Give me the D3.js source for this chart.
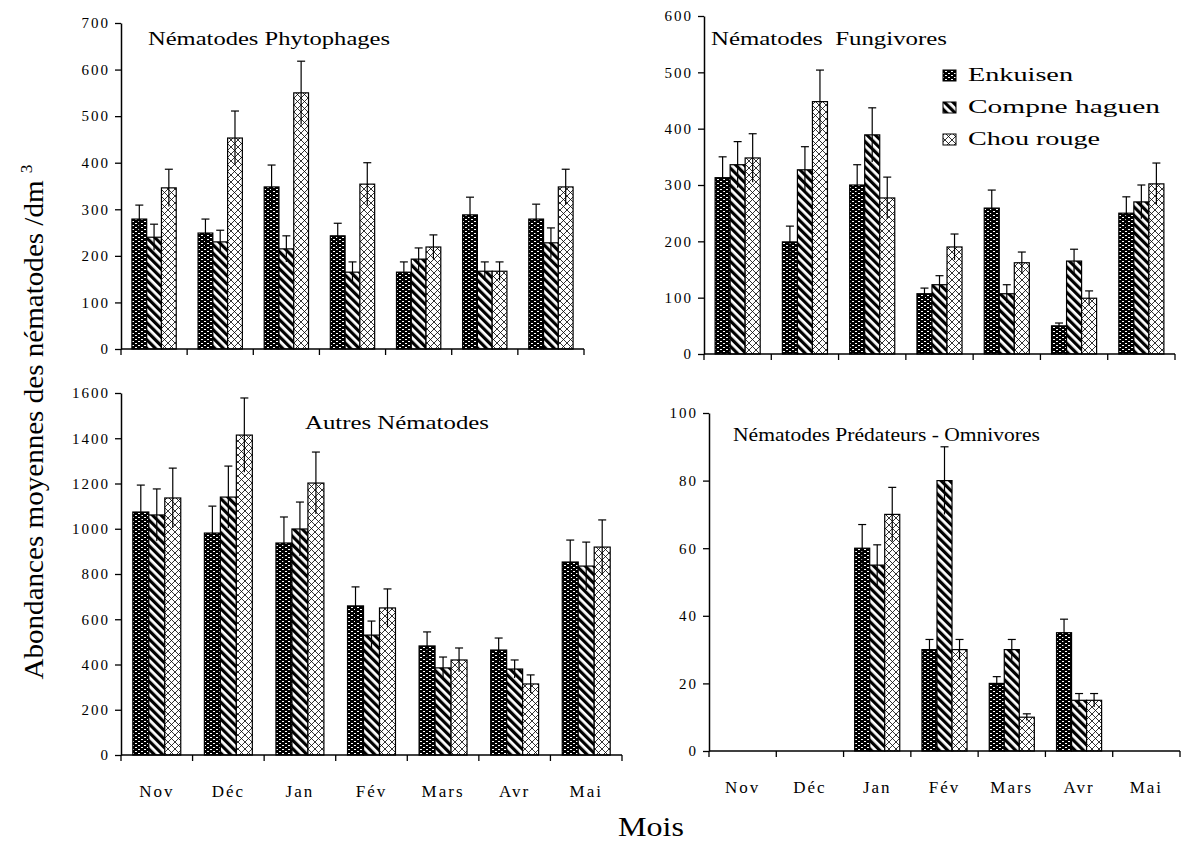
<!DOCTYPE html>
<html lang="fr">
<head>
<meta charset="UTF-8">
<title>Nématodes</title>
<style>
  body { margin: 0; background: #fff; }
  svg { display: block; font-family: "Liberation Serif", "DejaVu Serif", serif; }
  svg text { font-family: "Liberation Serif", "DejaVu Serif", serif; }
</style>
</head>
<body>
<div id="chart"></div>
<script src="https://cdn.jsdelivr.net/npm/d3@7"></script>
<script>
// mois et séries
const months = ["Nov", "Déc", "Jan", "Fév", "Mars", "Avr", "Mai"]
const series = ["Enkuisen", "Compne haguen", "Chou rouge"]

// Nématodes Phytophages : moyennes [Enkuisen, Compne, Chou] par mois + erreurs
const phytoMeans = [
  [279, 249, 348, 243, 165, 288, 279],
  [240, 230, 215, 165, 193, 167, 228],
  [346, 453, 550, 354, 219, 167, 348]
]
const phytoErrs = [
  [30, 30, 47, 27, 22, 38, 32],
  [28, 25, 28, 22, 24, 20, 32],
  [40, 58, 68, 46, 26, 20, 38]
]
const phytoTicks = [0, 100, 200, 300, 400, 500, 600, 700]

// Nématodes Fungivores
const fungiMeans = [
  [313, 199, 300, 107, 259, 50, 250],
  [336, 327, 389, 123, 107, 165, 270],
  [348, 448, 277, 190, 162, 99, 302]
]
const fungiErrs = [
  [37, 28, 36, 10, 32, 5, 29],
  [41, 41, 48, 16, 16, 21, 30],
  [43, 56, 37, 23, 19, 13, 37]
]
const fungiTicks = [0, 100, 200, 300, 400, 500, 600]

// Autres Nématodes
const autresMeans = [
  [1074, 981, 937, 659, 482, 464, 853],
  [1061, 1140, 999, 530, 385, 380, 835],
  [1136, 1414, 1202, 650, 420, 314, 919]
]
const autresErrs = [
  [119, 119, 115, 84, 62, 53, 97],
  [115, 137, 119, 62, 48, 40, 106],
  [132, 164, 137, 84, 53, 40, 120]
]
const autresTicks = [0, 200, 400, 600, 800, 1000, 1200, 1400, 1600]

// Nématodes Prédateurs - Omnivores
const predMeans = [
  [0, 0, 60, 30, 20, 35, 0],
  [0, 0, 55, 80, 30, 15, 0],
  [0, 0, 70, 30, 10, 15, 0]
]
const predErrs = [
  [0, 0, 7, 3, 2, 4, 0],
  [0, 0, 6, 10, 3, 2, 0],
  [0, 0, 8, 3, 1, 2, 0]
]
const predTicks = [0, 20, 40, 60, 80, 100]

const width = 1181
const height = 842
const serif = '"Liberation Serif", "DejaVu Serif", serif'
const svg = d3.select('#chart').append('svg')
  .attr('width', width)
  .attr('height', height)

// motifs de remplissage
const defs = svg.append('defs')
const p1 = defs.append('pattern').attr('id', 'pat0')
  .attr('patternUnits', 'userSpaceOnUse').attr('width', 6).attr('height', 4)
p1.append('rect').attr('width', 6).attr('height', 4).attr('fill', '#000')
p1.append('rect').attr('x', 0).attr('y', 1).attr('width', 2).attr('height', 1).attr('fill', '#fff')
p1.append('rect').attr('x', 3).attr('y', 3).attr('width', 2).attr('height', 1).attr('fill', '#fff')

const p2 = defs.append('pattern').attr('id', 'pat1')
  .attr('patternUnits', 'userSpaceOnUse').attr('width', 6).attr('height', 6)
  .attr('patternTransform', 'rotate(-45)')
p2.append('rect').attr('width', 6).attr('height', 6).attr('fill', '#fff')
p2.append('rect').attr('width', 3.2).attr('height', 6).attr('fill', '#000')

const p3 = defs.append('pattern').attr('id', 'pat2')
  .attr('patternUnits', 'userSpaceOnUse').attr('width', 7).attr('height', 7)
p3.append('rect').attr('width', 7).attr('height', 7).attr('fill', '#fff')
p3.append('path').attr('d', 'M0,0L7,7M7,0L0,7')
  .attr('stroke', '#000').attr('stroke-width', 0.8)

const panels = [
  { title: 'Nématodes Phytophages', means: phytoMeans, errs: phytoErrs, ticks: phytoTicks,
    x0: 121, x1: 584, y0: 349, y1: 23, labels: false,
    tx: 148, ty: 45, tw: 242 },
  { title: 'Nématodes  Fungivores', means: fungiMeans, errs: fungiErrs, ticks: fungiTicks,
    x0: 704, x1: 1175, y0: 354, y1: 16, labels: false,
    tx: 711, ty: 45, tw: 236 },
  { title: 'Autres Nématodes', means: autresMeans, errs: autresErrs, ticks: autresTicks,
    x0: 121, x1: 622, y0: 755, y1: 393, labels: true,
    tx: 305, ty: 429, tw: 184 },
  { title: 'Nématodes Prédateurs - Omnivores', means: predMeans, errs: predErrs, ticks: predTicks,
    x0: 709, x1: 1180, y0: 751, y1: 413, labels: true,
    tx: 733, ty: 441, tw: 307 }
]

panels.forEach(p => drawPanel(p))

function drawPanel(p) {
  const g = svg.append('g')
  const x = d3.scaleBand().domain(months).range([p.x0, p.x1]).padding(0)
  const xs = d3.scaleBand().domain(d3.range(series.length))
    .range([x.step() * 0.165, x.step() * 0.835]).padding(0)
  const y = d3.scaleLinear()
    .domain([0, p.ticks[p.ticks.length - 1]])
    .range([p.y0, p.y1])

  // barres
  series.forEach((s, si) => {
    const bars = g.append('g')
    months.forEach((m, mi) => {
      const v = p.means[si][mi]
      if (v <= 0) return
      bars.append('rect')
        .attr('x', x(m) + xs(si))
        .attr('y', y(v))
        .attr('width', xs.bandwidth())
        .attr('height', y(0) - y(v))
        .attr('fill', `url(#pat${si})`)
        .attr('stroke', '#000')
        .attr('stroke-width', 1.2)
    })
  })

  // barres d'erreur
  series.forEach((s, si) => {
    months.forEach((m, mi) => {
      const v = p.means[si][mi]
      const e = p.errs[si][mi]
      if (v <= 0) return
      const cx = x(m) + xs(si) + xs.bandwidth() / 2
      g.append('line')
        .attr('x1', cx).attr('x2', cx)
        .attr('y1', y(v - e)).attr('y2', y(v + e))
        .attr('stroke', '#000').attr('stroke-width', 1.2)
      g.append('line')
        .attr('x1', cx - 4).attr('x2', cx + 4)
        .attr('y1', y(v + e)).attr('y2', y(v + e))
        .attr('stroke', '#000').attr('stroke-width', 1.2)
    })
  })

  // axe y
  const yAxis = g.append('g')
    .attr('transform', `translate(${p.x0},0)`)
    .call(d3.axisLeft(y).tickValues(p.ticks).tickFormat(d3.format('d'))
      .tickSize(6).tickPadding(5).tickSizeOuter(0))
  yAxis.attr('font-family', null)
  yAxis.select('.domain').attr('stroke-width', 1.5)
  yAxis.selectAll('.tick line').attr('stroke-width', 1.3)
  yAxis.selectAll('text')
    .style('font-family', serif)
    .attr('font-size', 15)
    .attr('letter-spacing', 2)
    .attr('fill', '#000')

  // axe x
  g.append('line')
    .attr('x1', p.x0).attr('x2', p.x1)
    .attr('y1', p.y0).attr('y2', p.y0)
    .attr('stroke', '#000').attr('stroke-width', 1.5)
  g.append('g').selectAll('line')
    .data(months.map(m => x(m)).concat([p.x1]))
    .join('line')
    .attr('x1', d => d).attr('x2', d => d)
    .attr('y1', p.y0).attr('y2', p.y0 + 6)
    .attr('stroke', '#000').attr('stroke-width', 1.3)

  if (p.labels) {
    g.append('g').selectAll('text')
      .data(months)
      .join('text')
      .attr('x', d => x(d) + x.bandwidth() / 2)
      .attr('y', p.y0 + 42)
      .attr('text-anchor', 'middle')
      .style('font-family', serif)
      .attr('font-size', 17)
      .attr('letter-spacing', 2)
      .text(d => d)
  }

  g.append('text')
    .attr('x', p.tx)
    .attr('y', p.ty)
    .style('font-family', serif)
    .attr('font-size', 19)
    .attr('textLength', p.tw)
    .attr('lengthAdjust', 'spacingAndGlyphs')
    .attr('xml:space', 'preserve')
    .text(p.title)
}

// légende
const legend = svg.append('g')
series.forEach((s, i) => {
  const ly = 81 + i * 32
  legend.append('rect')
    .attr('x', 943).attr('y', ly - 11)
    .attr('width', 13).attr('height', 11)
    .attr('fill', `url(#pat${i})`)
    .attr('stroke', '#000').attr('stroke-width', 1)
  legend.append('text')
    .attr('x', 968).attr('y', ly)
    .style('font-family', serif)
    .attr('font-size', 19)
    .attr('textLength', [105, 192, 132][i])
    .attr('lengthAdjust', 'spacingAndGlyphs')
    .text(s)
})

// titres des axes
const yl = svg.append('text')
  .attr('transform', 'translate(43,422) rotate(-90)')
  .attr('text-anchor', 'middle')
  .style('font-family', serif)
  .attr('font-size', 27)
  .attr('textLength', 515)
  .attr('lengthAdjust', 'spacingAndGlyphs')
yl.append('tspan').text('Abondances moyennes des nématodes /dm ')
yl.append('tspan').attr('font-size', 16).attr('dy', -11).text('3')

svg.append('text')
  .attr('x', 651).attr('y', 836)
  .attr('text-anchor', 'middle')
  .style('font-family', serif)
  .attr('font-size', 27)
  .attr('textLength', 66)
  .attr('lengthAdjust', 'spacingAndGlyphs')
  .text('Mois')
</script>
</body>
</html>
